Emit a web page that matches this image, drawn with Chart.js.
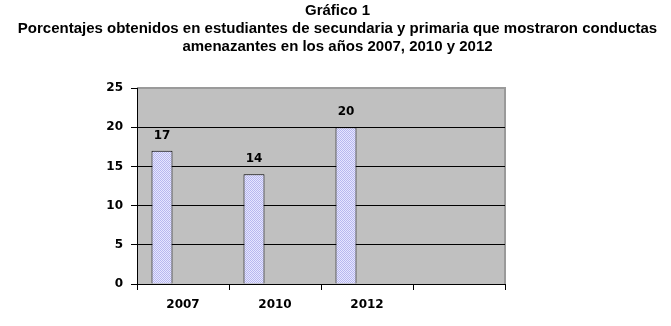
<!DOCTYPE html>
<html>
<head>
<meta charset="utf-8">
<script src="https://cdn.jsdelivr.net/npm/chart.js@4"></script>
<style>
  html, body { margin: 0; padding: 0; background: #fff; }
  #wrap { width: 671px; height: 326px; }
</style>
</head>
<body>
<div id="wrap"><canvas id="grafico"></canvas></div>
<script>
// Data
var years = ['2007', '2010', '2012', ''];
var percentages = [17, 14, 20, null];
var emptySeries = [null, null, null, null];
var titleLines = [
  'Gráfico 1',
  'Porcentajes obtenidos en estudiantes de secundaria y primaria que mostraron conductas',
  'amenazantes en los años 2007, 2010 y 2012'
];

// Small checker pattern for the bar fill
function makePattern() {
  var c = document.createElement('canvas');
  c.width = 2; c.height = 2;
  var g = c.getContext('2d');
  g.fillStyle = '#e6e6ff';
  g.fillRect(0, 0, 2, 2);
  g.fillStyle = '#b8b8ee';
  g.fillRect(0, 0, 1, 1);
  g.fillRect(1, 1, 1, 1);
  return g.createPattern(c, 'repeat');
}

// Title centred over the whole page, not just the chart box
var pageTitle = {
  id: 'pageTitle',
  afterDraw: function (chart) {
    var ctx = chart.ctx;
    var lineY = [11, 29, 47];
    ctx.save();
    ctx.font = 'bold 15px "Liberation Sans", Arial, sans-serif';
    ctx.fillStyle = '#000';
    ctx.textAlign = 'center';
    ctx.textBaseline = 'middle';
    titleLines.forEach(function (t, i) {
      ctx.fillText(t, chart.width / 2 + 2, lineY[i]);
    });
    ctx.restore();
  }
};

// Gray plot area with a darker edge on top and right
var plotArea = {
  id: 'plotArea',
  beforeDraw: function (chart) {
    var a = chart.chartArea, ctx = chart.ctx;
    ctx.save();
    ctx.fillStyle = '#c0c0c0';
    ctx.fillRect(a.left, a.top, a.right - a.left, a.bottom - a.top);
    ctx.strokeStyle = '#9a9a9a';
    ctx.lineWidth = 2;
    ctx.beginPath();
    ctx.moveTo(a.left, a.top);
    ctx.lineTo(a.right, a.top);
    ctx.lineTo(a.right, a.bottom);
    ctx.stroke();
    ctx.restore();
  }
};

// Value labels above the bars
var barLabels = {
  id: 'barLabels',
  afterDatasetsDraw: function (chart) {
    var ctx = chart.ctx;
    var meta = chart.getDatasetMeta(0);
    ctx.save();
    ctx.font = 'bold 12px "DejaVu Sans"';
    ctx.fillStyle = '#000';
    ctx.textAlign = 'center';
    ctx.textBaseline = 'middle';
    meta.data.forEach(function (bar, i) {
      if (percentages[i] == null) return;
      ctx.fillText(String(percentages[i]), bar.x, bar.y - 15);
    });
    ctx.restore();
  }
};

var ctx = document.getElementById('grafico').getContext('2d');
new Chart(ctx, {
  type: 'bar',
  data: {
    labels: years,
    datasets: [
      { data: percentages, backgroundColor: makePattern(), borderColor: '#000', borderWidth: 1 },
      { data: emptySeries },
      { data: emptySeries }
    ]
  },
  options: {
    responsive: true,
    maintainAspectRatio: false,
    animation: false,
    categoryPercentage: 0.685,
    barPercentage: 1.0,
    layout: { padding: { left: 0, right: 166, top: 88, bottom: 0 } },
    plugins: {
      legend: { display: false },
      tooltip: { enabled: false },
      title: { display: false }
    },
    scales: {
      x: {
        grid: { offset: true, drawOnChartArea: false, drawTicks: true, tickLength: 6, tickColor: '#000' },
        border: { color: '#000', width: 1 },
        ticks: { color: '#000', padding: 8, font: { family: '"DejaVu Sans"', size: 12, weight: 'bold' } },
        afterFit: function (scale) { scale.height = 42; }
      },
      y: {
        min: 0,
        max: 25,
        ticks: { stepSize: 5, color: '#000', padding: 8, font: { family: '"DejaVu Sans"', size: 12, weight: 'bold' } },
        grid: {
          color: function (c) { return c.tick && c.tick.value === 25 ? 'rgba(0,0,0,0)' : '#000'; },
          tickColor: '#000',
          tickLength: 6
        },
        border: { color: '#000', width: 1 },
        afterFit: function (scale) { scale.width = 137; }
      }
    }
  },
  plugins: [plotArea, barLabels, pageTitle]
});
</script>
</body>
</html>
